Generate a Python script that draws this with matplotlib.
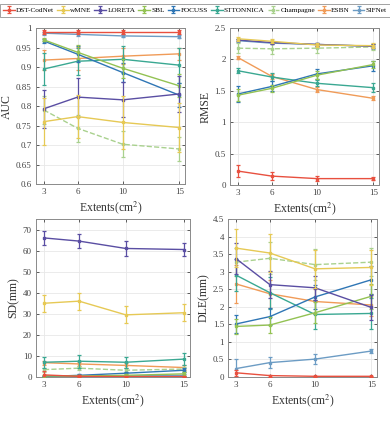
import numpy as np
import matplotlib
matplotlib.use("Agg")
import matplotlib.pyplot as plt

plt.rcParams['font.family'] = ['Liberation Serif', 'DejaVu Serif']
plt.rcParams['mathtext.fontset'] = 'stix'

extents = [3, 6, 10, 15]
methods = ["DST-CodNet", "wMNE", "LORETA", "SBL", "FOCUSS", "STTONNICA",
           "Champagne", "ESBN", "SIFNet"]
colors = ["#e8503f", "#e6c955", "#5a4ea3", "#93c253", "#2f76b5", "#3aa892",
          "#a9d18e", "#f09b58", "#6c9cc4"]

# AUC mean / err
auc = {
    "DST-CodNet": [0.990, 0.990, 0.990, 0.990],
    "wMNE":       [0.760, 0.773, 0.758, 0.745],
    "LORETA":     [0.793, 0.823, 0.816, 0.831],
    "SBL":        [0.970, 0.938, 0.897, 0.852],
    "FOCUSS":     [0.967, 0.933, 0.886, 0.828],
    "STTONNICA":  [0.895, 0.915, 0.920, 0.905],
    "Champagne":  [0.790, 0.743, 0.702, 0.690],
    "ESBN":       [0.918, 0.922, 0.928, 0.934],
    "SIFNet":     [0.987, 0.984, 0.980, 0.978],
}
auc_err = {
    "DST-CodNet": [0.006, 0.006, 0.006, 0.006],
    "wMNE":       [0.060, 0.055, 0.068, 0.062],
    "LORETA":     [0.048, 0.050, 0.045, 0.045],
    "SBL":        [0.004, 0.018, 0.025, 0.030],
    "FOCUSS":     [0.005, 0.020, 0.025, 0.030],
    "STTONNICA":  [0.042, 0.035, 0.034, 0.045],
    "Champagne":  [0.035, 0.035, 0.033, 0.030],
    "ESBN":       [0.025, 0.030, 0.020, 0.016],
    "SIFNet":     [0.004, 0.004, 0.004, 0.004],
}

rmse = {
    "DST-CodNet": [0.22, 0.14, 0.10, 0.10],
    "wMNE":       [2.33, 2.29, 2.23, 2.22],
    "LORETA":     [2.31, 2.27, 2.24, 2.21],
    "SBL":        [1.43, 1.54, 1.75, 1.92],
    "FOCUSS":     [1.45, 1.57, 1.77, 1.90],
    "STTONNICA":  [1.82, 1.72, 1.62, 1.55],
    "Champagne":  [2.18, 2.17, 2.18, 2.20],
    "ESBN":       [2.03, 1.73, 1.52, 1.38],
    "SIFNet":     [2.30, 2.26, 2.24, 2.21],
}
rmse_err = {
    "DST-CodNet": [0.10, 0.07, 0.04, 0.03],
    "wMNE":       [0.03, 0.03, 0.03, 0.04],
    "LORETA":     [0.02, 0.02, 0.02, 0.03],
    "SBL":        [0.10, 0.06, 0.06, 0.06],
    "FOCUSS":     [0.13, 0.08, 0.08, 0.08],
    "STTONNICA":  [0.04, 0.06, 0.05, 0.07],
    "Champagne":  [0.08, 0.09, 0.07, 0.05],
    "ESBN":       [0.03, 0.04, 0.04, 0.03],
    "SIFNet":     [0.02, 0.02, 0.03, 0.04],
}

sd = {
    "DST-CodNet": [1.0, 0.3, 0.2, 0.2],
    "wMNE":       [35.0, 36.0, 29.5, 30.5],
    "LORETA":     [66.0, 64.5, 61.0, 60.5],
    "SBL":        [0.5, 0.5, 0.8, 1.5],
    "FOCUSS":     [0.2, 0.8, 1.8, 3.2],
    "STTONNICA":  [7.0, 7.5, 7.0, 8.5],
    "Champagne":  [3.5, 4.2, 3.2, 3.8],
    "ESBN":       [6.8, 6.2, 5.5, 4.5],
    "SIFNet":     [0.3, 0.3, 0.5, 0.8],
}
sd_err = {
    "DST-CodNet": [2.0, 0.5, 0.3, 0.3],
    "wMNE":       [4.0, 4.0, 4.0, 4.0],
    "LORETA":     [3.5, 3.5, 3.5, 3.2],
    "SBL":        [0.5, 0.5, 0.6, 0.8],
    "FOCUSS":     [0.3, 0.6, 0.8, 1.0],
    "STTONNICA":  [2.5, 3.0, 2.5, 3.0],
    "Champagne":  [1.0, 1.0, 1.0, 1.0],
    "ESBN":       [1.0, 1.0, 1.0, 1.0],
    "SIFNet":     [0.3, 0.3, 0.3, 0.4],
}

dle = {
    "DST-CodNet": [0.12, 0.04, 0.02, 0.02],
    "wMNE":       [3.67, 3.53, 3.08, 3.12],
    "LORETA":     [3.37, 2.63, 2.54, 1.98],
    "SBL":        [1.44, 1.48, 1.83, 2.30],
    "FOCUSS":     [1.51, 1.72, 2.28, 2.77],
    "STTONNICA":  [2.90, 2.40, 1.78, 1.81],
    "Champagne":  [3.27, 3.38, 3.20, 3.27],
    "ESBN":       [2.65, 2.37, 2.15, 2.05],
    "SIFNet":     [0.24, 0.41, 0.51, 0.74],
}
dle_err = {
    "DST-CodNet": [0.08, 0.03, 0.02, 0.02],
    "wMNE":       [0.55, 0.55, 0.55, 0.50],
    "LORETA":     [0.45, 0.38, 0.35, 0.35],
    "SBL":        [0.22, 0.22, 0.30, 0.35],
    "FOCUSS":     [0.25, 0.25, 0.35, 0.40],
    "STTONNICA":  [0.45, 0.45, 0.40, 0.45],
    "Champagne":  [0.40, 0.45, 0.45, 0.40],
    "ESBN":       [0.55, 0.40, 0.35, 0.30],
    "SIFNet":     [0.27, 0.15, 0.15, 0.07],
}

panels = [
    (auc, auc_err, "AUC", (0.6, 1.0), np.arange(0.6, 1.001, 0.05),
     [0.092, 0.568, 0.382, 0.366]),
    (rmse, rmse_err, "RMSE", (0, 2.5), np.arange(0, 2.51, 0.5),
     [0.590, 0.566, 0.382, 0.368]),
    (sd, sd_err, "SD(mm)", (0, 75), np.arange(0, 71, 10),
     [0.092, 0.115, 0.395, 0.371]),
    (dle, dle_err, "DLE(mm)", (0, 4.5), np.arange(0, 4.51, 0.5),
     [0.585, 0.115, 0.382, 0.371]),
]

fig = plt.figure(figsize=(3.9, 4.26), dpi=100)
handles = []
for pi, (mean, err, ylab, ylim, yt, pos) in enumerate(panels):
    ax = fig.add_axes(pos)
    for i, m in enumerate(methods):
        ls = "--" if m == "Champagne" else "-"
        z = 20 if m == "DST-CodNet" else 10 - i * 0.5
        h = ax.errorbar(extents, mean[m], yerr=err[m], color=colors[i],
                        ls=ls, lw=1.0, marker="s", ms=1.8, elinewidth=0.9,
                        capsize=1.6, capthick=0.9, zorder=z, label=m)
        if pi == 0:
            handles.append(h)
    ax.set_xlim(2.3, 15.5)
    ax.set_ylim(*ylim)
    ax.set_xticks(extents)
    ax.set_yticks(yt)
    ax.set_yticklabels([f"{round(v, 2):g}" for v in yt])
    ax.grid(True, color="#e8e8e8", lw=0.6)
    ax.set_axisbelow(True)
    for s in ax.spines.values():
        s.set_color("#8a8a8a")
        s.set_linewidth(0.7)
    ax.tick_params(labelsize=6.5, colors="#444444", length=2, width=0.6,
                   direction="in", pad=3, top=True, right=True)
    ax.set_ylabel(ylab, fontsize=8.5, color="#333333", labelpad=2)
    ax.set_xlabel("Extents(cm$^2$)", fontsize=8.5, color="#333333", labelpad=2)

leg = fig.legend(handles, methods, loc="upper center",
                 bbox_to_anchor=(0.5, 0.995), ncol=9, fontsize=5.2,
                 handlelength=1.6, handletextpad=0.2, columnspacing=0.4,
                 borderpad=0.5, borderaxespad=0.2, frameon=True, fancybox=False)
leg.get_frame().set_edgecolor("#777777")
leg.get_frame().set_linewidth(0.6)

fig.savefig("out.png", dpi=100)
